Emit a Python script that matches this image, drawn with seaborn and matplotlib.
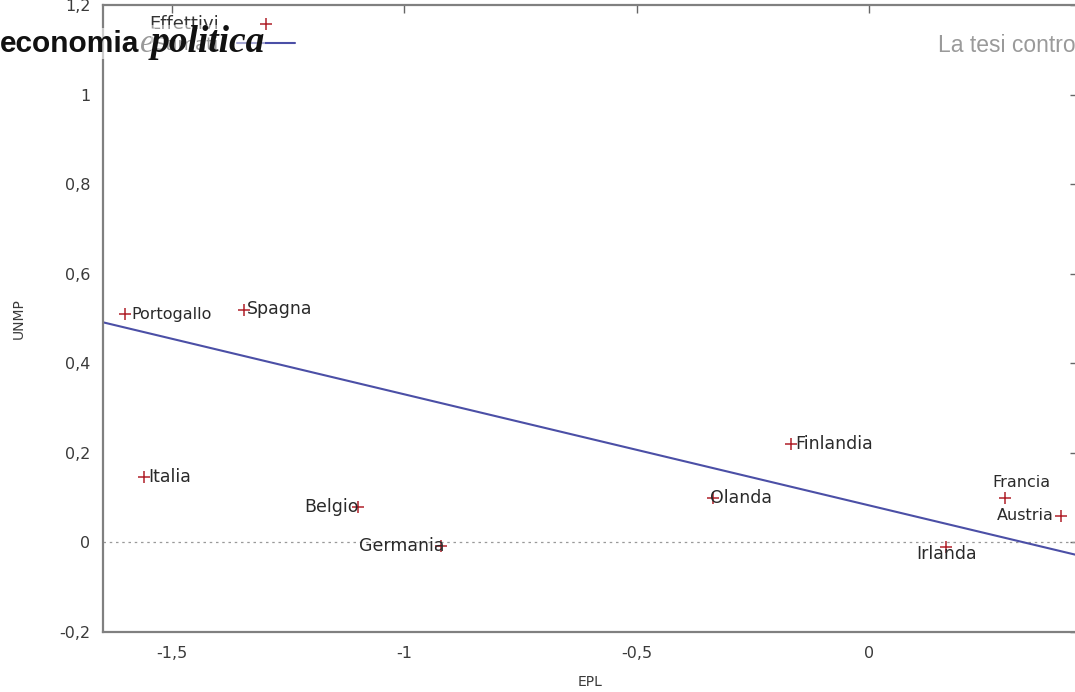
import matplotlib
matplotlib.use("Agg")
import matplotlib.pyplot as plt
import numpy as np
import pandas as pd
import seaborn as sns
from matplotlib.ticker import FuncFormatter, FixedLocator

# actual values (EPL vs UNMP)
countries = ["Portogallo", "Spagna", "Italia", "Belgio", "Germania",
             "Olanda", "Finlandia", "Francia", "Austria", "Irlanda"]
epl = [-1.60, -1.345, -1.56, -1.10, -0.92, -0.336, -0.168, 0.292, 0.413, 0.166]
unmp = [0.51, 0.52, 0.145, 0.08, -0.007, 0.10, 0.22, 0.10, 0.06, -0.01]

# fitted line (estimated)
fit_x = [-1.65, 0.45]
fit_y = [0.492, -0.029]

x_ticks = [-1.5, -1.0, -0.5, 0.0]
y_ticks = [-0.2, 0.0, 0.2, 0.4, 0.6, 0.8, 1.0, 1.2]

# label placement: (dx px, dy px, ha, fontsize)
label_pos = {
    "Portogallo": (6, 0, "left", 11.5),
    "Spagna": (3, 1, "left", 12.5),
    "Italia": (4, 0, "left", 12.5),
    "Belgio": (1, 0, "right", 12.5),
    "Germania": (3, 0, "right", 12.5),
    "Olanda": (-3, 0, "left", 12.5),
    "Finlandia": (4, 0, "left", 12.5),
    "Francia": (16, 15, "center", 11.5),
    "Austria": (-8, 0, "right", 11.5),
    "Irlanda": (0, -7, "center", 12.5),
}

sns.set_style("white")
plt.rcParams["font.family"] = ["DejaVu Sans"]

df = pd.DataFrame({"EPL": epl, "UNMP": unmp, "paese": countries})
fit = pd.DataFrame({"EPL": fit_x, "UNMP": fit_y})

fig = plt.figure(figsize=(10.75, 6.92), dpi=100)
ax = fig.add_axes([103 / 1075, 60 / 692, 975 / 1075, 627 / 692])

ax.axhline(0, color="#999999", lw=0.9, ls=(0, (2, 3)), zorder=1)
sns.lineplot(data=fit, x="EPL", y="UNMP", ax=ax, color="#4b4fa6", lw=1.5,
             label="Stimati", zorder=2)
sns.scatterplot(data=df, x="EPL", y="UNMP", ax=ax, marker="+", s=70,
                color="#b0202a", linewidth=1.1, label="Effettivi", zorder=3)

for c, x, y in zip(countries, epl, unmp):
    dx, dy, ha, fs = label_pos[c]
    ax.annotate(c, (x, y), xytext=(dx * 0.72, dy * 0.72), textcoords="offset points",
                ha=ha, va="center", fontsize=fs, color="#2a2a2a", zorder=4)

ax.set_xlim(-1.648, 0.449)
ax.set_ylim(-0.2, 1.2)
ax.xaxis.set_major_locator(FixedLocator(x_ticks))
ax.yaxis.set_major_locator(FixedLocator(y_ticks))
fmt = FuncFormatter(lambda v, p: ("%g" % round(v, 2)).replace(".", ","))
ax.xaxis.set_major_formatter(fmt)
ax.yaxis.set_major_formatter(fmt)
ax.tick_params(direction="in", length=6, width=1, color="#666666",
               top=True, right=True, labelsize=11.5, labelcolor="#3a3a3a")
ax.tick_params(axis="x", pad=10)
ax.tick_params(axis="y", pad=9)
for s in ax.spines.values():
    s.set_color("#808080")
    s.set_linewidth(1.6)

ax.set_xlabel("EPL", fontsize=10, color="#3a3a3a", labelpad=10)
ax.set_ylabel("UNMP", fontsize=10, color="#3a3a3a", labelpad=24)

h, l = ax.get_legend_handles_labels()
leg = ax.legend(h[::-1], l[::-1], loc="upper left", bbox_to_anchor=(0.037, 1.0),
                frameon=False, markerfirst=False, fontsize=13,
                handlelength=3.2, handletextpad=1.0, labelspacing=0.15,
                borderaxespad=0.15)
for t in leg.get_texts():
    t.set_color("#333333")

# header overlay
fig.text(0.0, 0.925, "economia", fontsize=21.5, fontweight="bold",
         family="Liberation Sans", color="#111111", va="baseline",
         bbox=dict(facecolor="white", alpha=0.6, edgecolor="none", pad=1))
fig.text(140 / 1075, 0.925, "e", fontsize=24, style="italic",
         family="Liberation Serif", color="#999999", va="baseline",
         bbox=dict(facecolor="white", alpha=0.5, edgecolor="none", pad=0))
fig.text(151 / 1075, 0.925, "politica", fontsize=27, style="italic",
         fontweight="bold", family="Liberation Serif", color="#111111",
         va="baseline",
         bbox=dict(facecolor="white", alpha=0.5, edgecolor="none", pad=0))
fig.text(938 / 1075, 0.925, "La tesi contro", fontsize=16.5,
         family="Liberation Sans", color="#9a9a9a", va="baseline")

fig.savefig("out.png", dpi=100)
